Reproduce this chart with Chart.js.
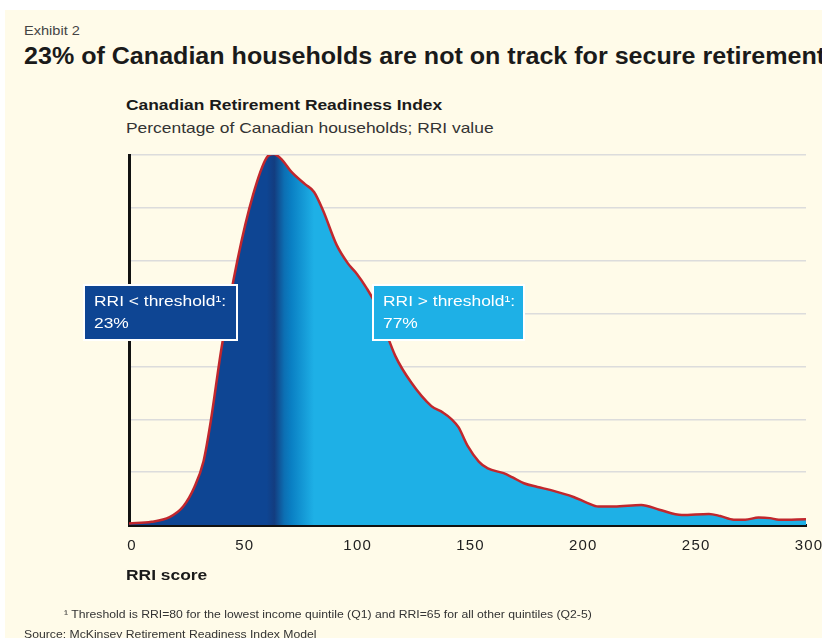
<!DOCTYPE html>
<html>
<head>
<meta charset="utf-8">
<script src="https://cdn.jsdelivr.net/npm/chart.js@4.4.1/dist/chart.umd.min.js"></script>
<style>
    html, body { margin: 0; padding: 0; background: #ffffff; }
    body { width: 822px; height: 638px; overflow: hidden; position: relative; font-family: "Liberation Sans", Arial, sans-serif; color: #222; }
    .fundo { position: absolute; left: 5px; top: 10px; right: 0; bottom: 0; background: #fffbe9; }
    .txt { position: absolute; white-space: nowrap; transform-origin: 0 0; transform: scaleX(1.16); }
    #exhibit  { left: 24px; top: 23px; font-size: 13px; color: #444; transform: scaleX(1.12); }
    #titulo   { left: 24px; top: 43px; font-size: 23px; font-weight: bold; color: #1a1a1a; transform: scaleX(1.09); }
    #subtit   { left: 126px; top: 96px; font-size: 15px; font-weight: bold; color: #1a1a1a; }
    #unidade  { left: 126px; top: 119px; font-size: 15px; color: #333; }
    #eixo-x   { left: 126px; top: 566px; font-size: 15px; font-weight: bold; color: #1a1a1a; }
    #nota     { left: 64px; top: 608px; font-size: 11px; color: #333; transform: scaleX(1.11); }
    #fonte    { left: 24px; top: 628px; font-size: 11px; color: #333; transform: scaleX(1.11); }
    .caixa { position: absolute; box-sizing: border-box; border: 2px solid #ffffff; color: #fff; font-size: 15px; line-height: 22px; padding: 4px 0 0 9px; }
    .caixa span { display: block; white-space: nowrap; transform-origin: 0 0; transform: scaleX(1.16); }
    #caixa-abaixo { left: 83px; top: 284px; width: 155px; height: 57px; background: #0e4593; }
    #caixa-acima  { left: 372px; top: 284px; width: 153px; height: 57px; background: #1eb0e6; }
    #grafico-wrap { position: absolute; left: 0; top: 0; width: 822px; height: 638px; }
</style>
</head>
<body>
<div class="fundo"></div>
<div class="txt" id="exhibit">Exhibit 2</div>
<div class="txt" id="titulo">23% of Canadian households are not on track for secure retirement</div>
<div class="txt" id="subtit">Canadian Retirement Readiness Index</div>
<div class="txt" id="unidade">Percentage of Canadian households; RRI value</div>
<div id="grafico-wrap"><canvas id="grafico-rri"></canvas></div>
<div class="caixa" id="caixa-abaixo"><span>RRI &lt; threshold¹:</span><span>23%</span></div>
<div class="caixa" id="caixa-acima"><span>RRI &gt; threshold¹:</span><span>77%</span></div>
<div class="txt" id="eixo-x">RRI score</div>
<div class="txt" id="nota">¹ Threshold is RRI=80 for the lowest income quintile (Q1) and RRI=65 for all other quintiles (Q2-5)</div>
<div class="txt" id="fonte">Source: McKinsey Retirement Readiness Index Model</div>

<script>
// ===== DADOS =====
const rriScore   = [0, 10, 18, 24, 29, 33, 36, 41, 48, 55, 61, 64, 68, 72, 78, 82, 86, 92, 97, 101, 105, 109, 113, 118, 125, 134, 139, 143, 146, 150, 155, 159, 166, 170, 175, 181, 187, 197, 203, 208, 215, 227, 235, 245, 257, 262, 268, 273, 279, 284, 288, 300];
const households = [0.03, 0.06, 0.15, 0.35, 0.72, 1.2, 1.9, 3.35, 5.0, 6.25, 6.95, 7.02, 6.9, 6.68, 6.45, 6.3, 5.95, 5.3, 4.95, 4.75, 4.5, 4.2, 3.75, 3.2, 2.7, 2.25, 2.13, 2.0, 1.85, 1.5, 1.2, 1.07, 0.98, 0.9, 0.79, 0.72, 0.66, 0.53, 0.42, 0.35, 0.35, 0.38, 0.29, 0.19, 0.21, 0.17, 0.1, 0.1, 0.14, 0.13, 0.1, 0.11];
const xTicks     = [0, 50, 100, 150, 200, 250, 300];

// gradiente do preenchimento (valor RRI -> cor)
const gradRri   = [61, 64.4, 68.8, 72, 82];
const gradCores = ['#0e4593', '#133d80', '#0c6fb3', '#0a80c4', '#1eb0e6'];

// ===== HELPERS =====
function preenchimento(context) {
    const chart = context.chart;
    const { chartArea, scales } = chart;
    if (!chartArea) return '#1eb0e6';
    const x0 = chartArea.left, x1 = chartArea.right;
    const g = chart.ctx.createLinearGradient(x0, 0, x1, 0);
    g.addColorStop(0, gradCores[0]);
    gradRri.forEach((v, i) => {
        const p = (scales.x.getPixelForValue(v) - x0) / (x1 - x0);
        g.addColorStop(Math.min(Math.max(p, 0), 1), gradCores[i]);
    });
    g.addColorStop(1, gradCores[gradCores.length - 1]);
    return g;
}

// letras um pouco mais largas nos rótulos do eixo
const espacamento = {
    id: 'espacamento',
    beforeDraw: chart => { chart.ctx.letterSpacing = '1.2px'; }
};

// ===== GRÁFICO =====
const ctx = document.getElementById('grafico-rri').getContext('2d');
new Chart(ctx, {
    type: 'line',
    data: {
        datasets: [{
            data:             rriScore.map((x, i) => ({ x, y: households[i] })),
            borderColor:      '#c1272d',
            borderWidth:      2.5,
            backgroundColor:  preenchimento,
            fill:             'origin',
            cubicInterpolationMode: 'monotone',
            pointRadius:      0,
        }]
    },
    plugins: [espacamento],
    options: {
        responsive: true,
        maintainAspectRatio: false,
        animation: false,
        layout: { padding: { left: 129, right: 16, top: 155, bottom: 82 } },
        plugins: { legend: { display: false }, tooltip: { enabled: false } },
        scales: {
            x: {
                type: 'linear',
                min: 0, max: 300,
                afterBuildTicks: s => { s.ticks = xTicks.map(v => ({ value: v })); },
                afterFit: s => { s.height = 31; s.paddingLeft = 0; s.paddingRight = 0; },
                grid: { display: false, drawTicks: false },
                border: { color: '#111', width: 3 },
                ticks: { color: '#222', font: { family: 'Liberation Sans', size: 15 }, padding: 12, maxRotation: 0, labelOffset: 3 }
            },
            y: {
                min: 0, max: 7,
                ticks: { display: false, stepSize: 1 },
                afterFit: s => { s.width = 0; s.paddingTop = 0; s.paddingBottom = 0; },
                grid: { color: '#dcdcdc', lineWidth: 1.5, drawTicks: false },
                border: { color: '#111', width: 3 }
            }
        }
    }
});
</script>
</body>
</html>
